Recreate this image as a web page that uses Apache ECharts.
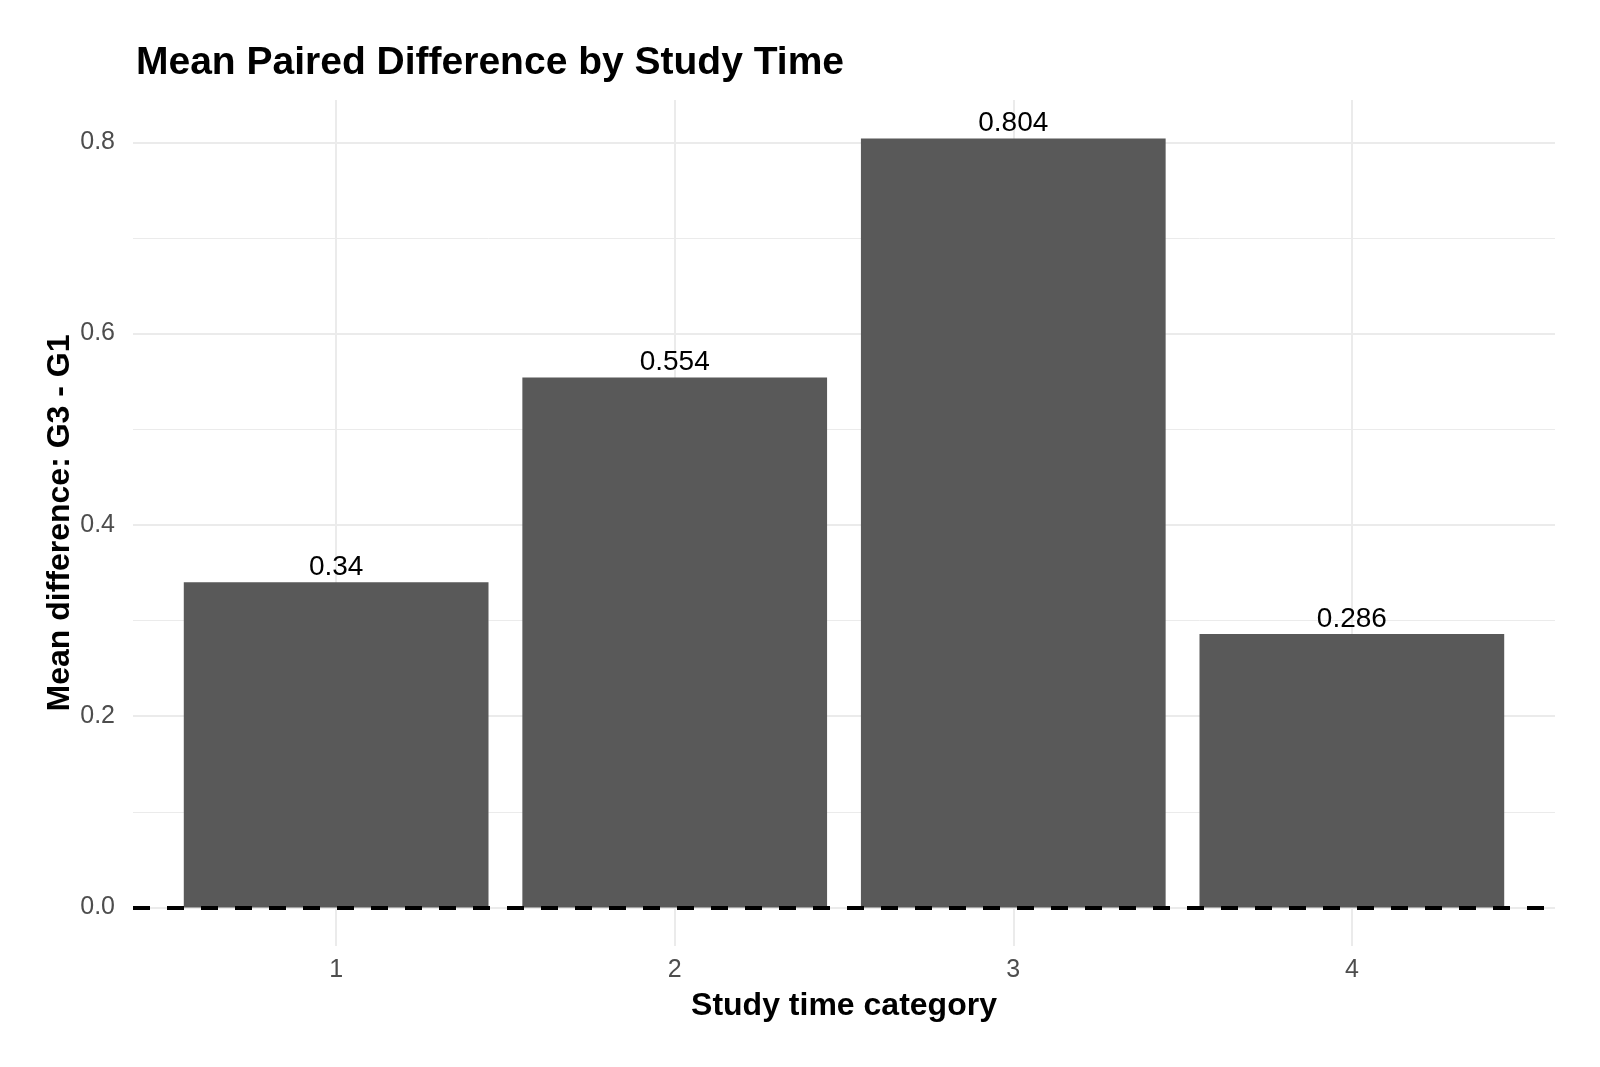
<!DOCTYPE html>
<html>
<head>
<meta charset="utf-8">
<script src="https://cdn.jsdelivr.net/npm/echarts@6/dist/echarts.min.js"></script>
<style>
  html, body { margin: 0; padding: 0; background: #fff; }
  #chart { width: 1600px; height: 1067px; }
</style>
</head>
<body>
<div id="chart"></div>
<script>
// data
var studyTime = [1, 2, 3, 4];
var meanDiff = [0.34, 0.554, 0.804, 0.286];
var yTicks = [0, 0.2, 0.4, 0.6, 0.8];
var yMinor = [0.1, 0.3, 0.5, 0.7];

var font = '"Liberation Sans", Arial, sans-serif';
var gridLeft = 133, gridRight = 45;
var xMin = 0.4, xMax = 4.6;
var barW = 0.9 * (1600 - gridLeft - gridRight) / (xMax - xMin);

var chart = echarts.init(document.getElementById('chart'));

var barData = studyTime.map(function (s, i) { return [s, meanDiff[i]]; });

// panel grid: major + minor horizontal, major vertical
var gridLines = [];
yTicks.forEach(function (v) {
    gridLines.push({ yAxis: v, lineStyle: { width: 2 } });
});
yMinor.forEach(function (v) {
    gridLines.push({ yAxis: v, lineStyle: { width: 1 } });
});
studyTime.forEach(function (v) {
    gridLines.push({ xAxis: v, lineStyle: { width: 2 } });
});

chart.setOption({
    backgroundColor: '#ffffff',
    animation: false,
    title: {
        text: 'Mean Paired Difference by Study Time',
        left: 131,
        top: 39,
        textStyle: { fontFamily: font, fontSize: 39, fontWeight: 'bold', color: '#000' }
    },
    grid: { left: gridLeft, right: gridRight, top: 100, bottom: 121 },
    xAxis: {
        type: 'value',
        min: xMin,
        max: xMax,
        name: 'Study time category',
        nameLocation: 'middle',
        nameGap: 44,
        nameMoveOverlap: false,
        nameTextStyle: { fontFamily: font, fontSize: 32, fontWeight: 'bold', color: '#000', verticalAlign: 'top' },
        axisLine: { show: false },
        axisTick: { show: false },
        splitLine: { show: false },
        axisLabel: {
            customValues: studyTime,
            margin: 12,
            fontFamily: font,
            fontSize: 25,
            color: '#4d4d4d'
        }
    },
    yAxis: {
        type: 'value',
        min: -0.0402,
        max: 0.8442,
        name: 'Mean difference: G3 - G1',
        nameLocation: 'middle',
        nameGap: 57,
        nameRotate: 90,
        nameMoveOverlap: false,
        nameTextStyle: { fontFamily: font, fontSize: 32, fontWeight: 'bold', color: '#000' },
        axisLine: { show: false },
        axisTick: { show: false },
        splitLine: { show: false },
        axisLabel: {
            customValues: yTicks,
            margin: 18,
            fontFamily: font,
            fontSize: 25,
            color: '#4d4d4d',
            formatter: function (v) { return v.toFixed(1); }
        }
    },
    series: [
        {
            type: 'line',
            data: [],
            silent: true,
            markLine: {
                silent: true,
                z: 0,
                symbol: 'none',
                label: { show: false },
                lineStyle: { color: '#ebebeb', type: 'solid' },
                data: gridLines
            }
        },
        {
            type: 'bar',
            data: barData,
            barWidth: barW,
            z: 2,
            itemStyle: { color: '#595959' },
            label: {
                show: true,
                position: 'top',
                distance: 1,
                fontFamily: font,
                fontSize: 28,
                color: '#000',
                formatter: function (p) { return String(p.value[1]); }
            }
        },
        {
            // dashed line at zero
            type: 'line',
            data: [],
            silent: true,
            markLine: {
                silent: true,
                z: 10,
                symbol: 'none',
                label: { show: false },
                lineStyle: { color: '#000', width: 4, type: [17, 17] },
                data: [{ yAxis: 0 }]
            }
        }
    ]
});
</script>
</body>
</html>
